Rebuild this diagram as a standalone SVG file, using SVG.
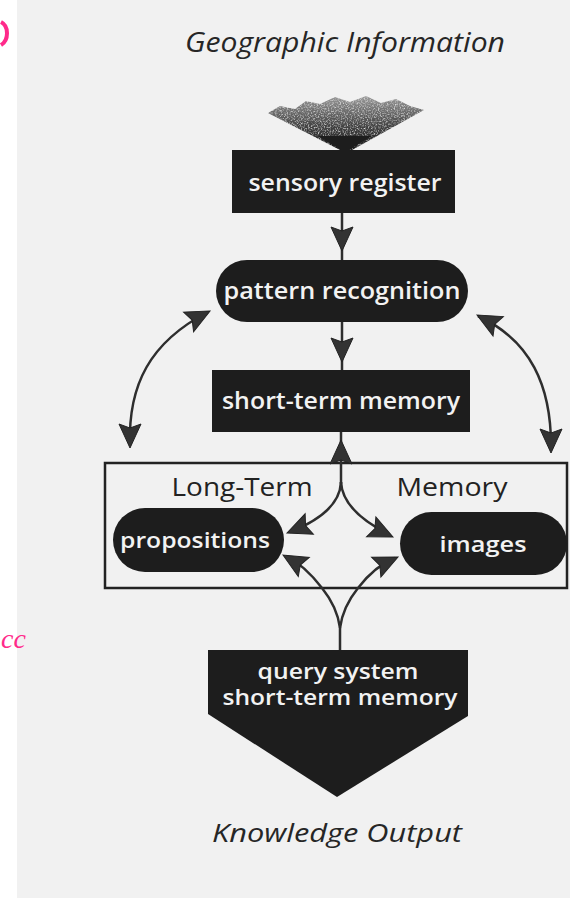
<svg xmlns="http://www.w3.org/2000/svg" width="570" height="898" viewBox="0 0 570 898">
  <defs>
    <style>
      .box { fill: #1d1d1d; }
      .lbl { font-family: "Open Sans", "Liberation Sans", sans-serif; font-weight: 600; fill: #f2f2f2; text-anchor: middle; }
      .ttl { font-family: "Open Sans", "Liberation Sans", sans-serif; font-style: italic; font-weight: 500; fill: #262626; text-anchor: middle; }
      .ltm { font-family: "Open Sans", "Liberation Sans", sans-serif; font-weight: 500; fill: #222; text-anchor: middle; }
      .con { fill: none; stroke: #2e2e2e; stroke-width: 2.5; }
      .head { fill: #333; stroke: #222; stroke-width: 1; }
    </style>
    <path id="ah" d="M0,0 L-24,-11 L-20,0 L-24,11 Z"/>
    <linearGradient id="fun" x1="0" y1="0" x2="0" y2="1">
      <stop offset="0" stop-color="#9a9a9a"/>
      <stop offset="0.55" stop-color="#444"/>
      <stop offset="1" stop-color="#1a1a1a"/>
    </linearGradient>
    <filter id="grain" x="0" y="0" width="1" height="1">
      <feTurbulence type="fractalNoise" baseFrequency="0.7" numOctaves="2" seed="5" result="n"/>
      <feColorMatrix in="n" type="matrix" values="0 0 0 0 0  0 0 0 0 0  0 0 0 0 0  0 0 0 -2 1.9" result="a"/>
      <feComposite in="SourceGraphic" in2="a" operator="in"/>
    </filter>
  </defs>

  <rect x="0" y="0" width="570" height="898" fill="#ffffff"/>
  <rect x="17" y="0" width="553" height="898" fill="#f1f1f1"/>
  <path d="M1,22 C9,26 9,40 1,45" fill="none" stroke="#ff2a8a" stroke-width="4"/>
  <text x="1" y="648" font-family="Liberation Serif, serif" font-style="italic" font-size="28" fill="#ff2a8a">cc</text>

  <g id="geographic-information">
    <text class="ttl" x="345" y="52" font-size="28" textLength="320" lengthAdjust="spacingAndGlyphs">Geographic Information</text>
  </g>

  <g id="funnel">
    <polygon points="268,113 280,106 295,109 306,101 320,104 335,97 350,102 366,96 381,103 396,99 410,106 424,110 352,150 340,150" fill="url(#fun)" filter="url(#grain)"/>
    <polygon points="318,136 372,136 349,150 341,150" fill="#1d1d1d"/>
  </g>

  <g id="sensory-register">
    <rect class="box" x="232" y="150" width="223" height="63"/>
    <text class="lbl" x="345" y="191" font-size="23" textLength="193" lengthAdjust="spacingAndGlyphs">sensory register</text>
  </g>

  <g id="pattern-recognition">
    <rect class="box" x="216" y="260" width="252" height="62" rx="31"/>
    <text class="lbl" x="342" y="299" font-size="23" textLength="237" lengthAdjust="spacingAndGlyphs">pattern recognition</text>
  </g>

  <g id="short-term-memory">
    <rect class="box" x="212" y="370" width="258" height="62"/>
    <text class="lbl" x="341" y="409" font-size="23" textLength="238" lengthAdjust="spacingAndGlyphs">short-term memory</text>
  </g>

  <g id="long-term-memory">
    <rect x="105" y="463" width="462" height="125" fill="none" stroke="#222" stroke-width="2.5"/>
    <text class="ltm" x="242" y="496" font-size="26" textLength="141" lengthAdjust="spacingAndGlyphs">Long-Term</text>
    <text class="ltm" x="452" y="496" font-size="26" textLength="111" lengthAdjust="spacingAndGlyphs">Memory</text>
  </g>

  <g id="propositions">
    <rect class="box" x="113" y="508" width="171" height="64" rx="32"/>
    <text class="lbl" x="195" y="548" font-size="22" textLength="150" lengthAdjust="spacingAndGlyphs">propositions</text>
  </g>

  <g id="images">
    <rect class="box" x="400" y="512" width="167" height="63" rx="31.5"/>
    <text class="lbl" x="483" y="552" font-size="22" textLength="87" lengthAdjust="spacingAndGlyphs">images</text>
  </g>

  <g id="query-system">
    <polygon class="box" points="208,650 468,650 468,716 337,797 208,714"/>
    <text class="lbl" x="338" y="679" font-size="21" textLength="161" lengthAdjust="spacingAndGlyphs">query system</text>
    <text class="lbl" x="340" y="705" font-size="21" textLength="235" lengthAdjust="spacingAndGlyphs">short-term memory</text>
  </g>

  <g id="knowledge-output">
    <text class="ttl" x="337" y="842" font-size="25" textLength="250" lengthAdjust="spacingAndGlyphs">Knowledge Output</text>
  </g>

  <g id="connectors">
    <line class="con" x1="342" y1="213" x2="342" y2="260"/>
    <use href="#ah" class="head" transform="translate(342,251) rotate(90)"/>

    <line class="con" x1="342" y1="322" x2="342" y2="370"/>
    <use href="#ah" class="head" transform="translate(342,362) rotate(90)"/>

    <line class="con" x1="341" y1="432" x2="341" y2="484"/>
    <use href="#ah" class="head" transform="translate(341,440) rotate(-90)"/>

    <path class="con" d="M130,445 C128,385 150,342 208,312"/>
    <use href="#ah" class="head" transform="translate(130,448) rotate(90)"/>
    <use href="#ah" class="head" transform="translate(210,311) rotate(-27)"/>

    <path class="con" d="M478,316 C530,340 552,385 551,450"/>
    <use href="#ah" class="head" transform="translate(551,453) rotate(90)"/>
    <use href="#ah" class="head" transform="translate(477,315) rotate(-152)"/>

    <path class="con" d="M341,482 C340,505 318,521 290,532"/>
    <use href="#ah" class="head" transform="translate(287,533) rotate(158)"/>
    <path class="con" d="M341,482 C342,505 364,522 390,535"/>
    <use href="#ah" class="head" transform="translate(393,537) rotate(25)"/>

    <path class="con" d="M340,650 L340,628 C338,612 330,598 322,588 C312,575 300,563 286,556"/>
    <use href="#ah" class="head" transform="translate(283,555) rotate(-150)"/>
    <path class="con" d="M340,628 C342,612 350,598 358,588 C368,575 380,564 395,558"/>
    <use href="#ah" class="head" transform="translate(398,557) rotate(-25)"/>
  </g>
</svg>
